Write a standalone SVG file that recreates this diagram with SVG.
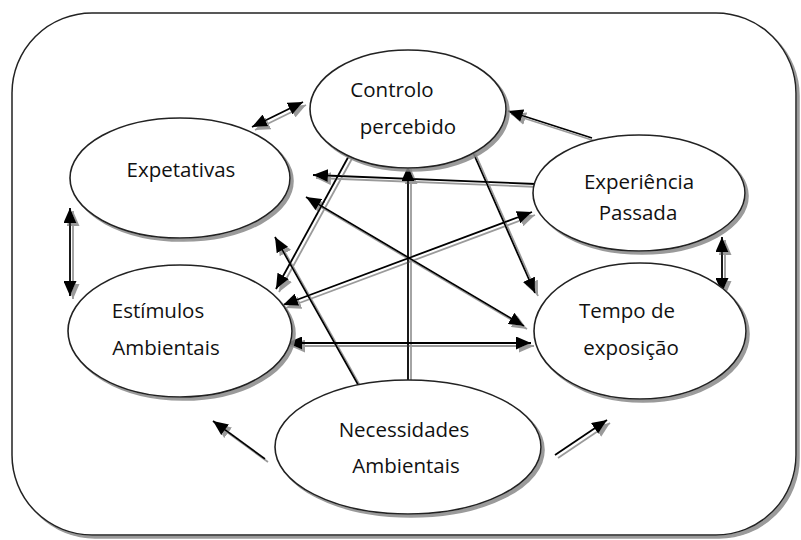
<svg xmlns="http://www.w3.org/2000/svg" width="801" height="540" viewBox="0 0 801 540">
<defs>
<filter id="sh" x="-5%" y="-5%" width="115%" height="120%">
<feDropShadow dx="3" dy="3" stdDeviation="0.6" flood-color="#888" flood-opacity="0.85"/>
</filter>
<marker id="ah" viewBox="0 0 15 13" refX="15" refY="6.5" markerWidth="15" markerHeight="13" orient="auto-start-reverse" markerUnits="userSpaceOnUse">
<path d="M0,0 L15,6.5 L0,13 z" fill="#000"/>
</marker>
<style>
.node ellipse{fill:#fff;stroke:#222;stroke-width:1.6;filter:url(#sh)}
.node text{font-family:"Open Sans","Liberation Sans",sans-serif;font-size:20.5px;fill:#111;text-anchor:middle}
#connectors line{stroke:#000;stroke-width:1.8}
.one{marker-end:url(#ah)}
.two{marker-start:url(#ah);marker-end:url(#ah)}
</style>
</defs>
<rect id="frame" x="12" y="13" width="784" height="522" rx="80" ry="80" fill="#fff" stroke="#222" stroke-width="1.5" filter="url(#sh)"/>
<g id="connectors" filter="url(#sh)">
<line class="two" x1="252" y1="127" x2="303" y2="102"/>
<line class="one" x1="592" y1="138" x2="508" y2="111"/>
<line class="one" x1="536" y1="184" x2="313" y2="175"/>
<line class="one" x1="351" y1="152" x2="276" y2="289"/>
<line class="two" x1="283" y1="305" x2="532" y2="212"/>
<line class="two" x1="306" y1="197" x2="524" y2="326"/>
<line class="one" x1="472" y1="150" x2="535" y2="293"/>
<line class="one" x1="408" y1="385" x2="408" y2="166"/>
<line class="one" x1="360" y1="388" x2="275" y2="237"/>
<line class="two" x1="287" y1="343" x2="531" y2="343"/>
<line class="two" x1="70" y1="208" x2="70" y2="296"/>
<line class="two" x1="722" y1="237" x2="722" y2="293"/>
<line class="one" x1="265" y1="459" x2="213" y2="421"/>
<line class="one" x1="555" y1="455" x2="607" y2="420"/>
</g>
<g id="controlo" class="node">
<ellipse cx="408" cy="109" rx="98" ry="59"/>
<text x="392" y="97">Controlo</text>
<text x="408" y="134">percebido</text>
</g>
<g id="expetativas" class="node">
<ellipse cx="180" cy="178" rx="110" ry="60"/>
<text x="181" y="177">Expetativas</text>
</g>
<g id="estimulos" class="node">
<ellipse cx="180" cy="331" rx="112" ry="66"/>
<text x="158" y="318">Estímulos</text>
<text x="166" y="355">Ambientais</text>
</g>
<g id="experiencia" class="node">
<ellipse cx="639" cy="193" rx="106" ry="58"/>
<text x="639" y="189">Experiência</text>
<text x="638" y="220">Passada</text>
</g>
<g id="tempo" class="node">
<ellipse cx="640" cy="331" rx="106" ry="68"/>
<text x="627" y="318">Tempo de</text>
<text x="631" y="355">exposição</text>
</g>
<g id="necessidades" class="node">
<ellipse cx="408" cy="447" rx="133" ry="67"/>
<text x="404" y="437">Necessidades</text>
<text x="406" y="473">Ambientais</text>
</g>
</svg>
